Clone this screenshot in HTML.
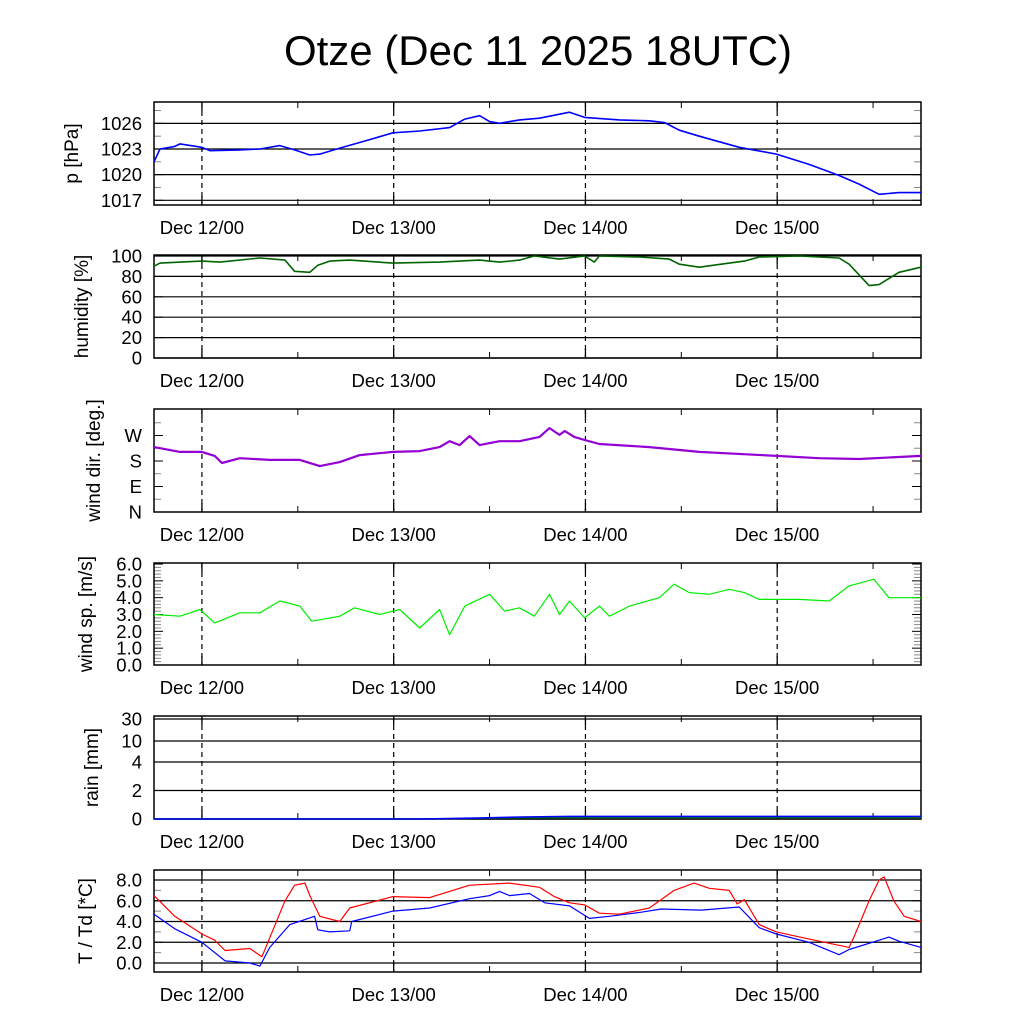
<!DOCTYPE html>
<html><head><meta charset="utf-8"><style>
html,body{margin:0;padding:0;background:#fff;}
svg{display:block;font-family:"Liberation Sans",sans-serif;}
</style></head><body>
<svg id="c" width="1024" height="1024" viewBox="0 0 1024 1024">
<text x="538" y="65" font-size="42" text-anchor="middle">Otze (Dec 11 2025 18UTC)</text>
</svg>
<script>
// time axis: hours since Dec 11 18UTC
const dayTicks=[6,30,54,78];
const dayLabels=["Dec 12/00","Dec 13/00","Dec 14/00","Dec 15/00"];
// pressure
const pT=[0,0.75,2.6,3.25,6,7,10.75,13.25,15.75,17.6,19.5,20.75,23.25,27,29.9,33.25,37,38.9,40.75,42,43.25,45.75,48.25,52,53.9,58.25,62,63.9,65.75,68.25,73.25,77.9,82,85.75,88.25,90.75,93.25,96];
const pV=[1021.5,1023,1023.3,1023.6,1023.2,1022.8,1022.9,1023,1023.4,1022.9,1022.3,1022.4,1023.1,1024.1,1024.9,1025.1,1025.5,1026.5,1026.9,1026.2,1026,1026.4,1026.6,1027.3,1026.7,1026.4,1026.3,1026.1,1025.2,1024.5,1023.2,1022.4,1021.2,1019.9,1018.9,1017.7,1017.9,1017.9];
// humidity
const hT=[0,0.75,6,8.25,13.25,16.4,17.6,19.5,20.5,22,24.5,29.9,35.75,40.75,43.25,45.75,47.6,50.75,53.9,55.1,55.75,60.75,64.5,65.75,68.25,72,73.9,75.75,80.75,85.75,87,89.5,90.75,93.25,96];
const hV=[90,93,95,94,98,96,85,84,91,95,96,93,94,96,94,96,100,97,100,94,100,99,97,92,89,93,95,99,100,98,92,71,72,84,89];
// wind direction (deg)
const dT=[0,3.25,6,7.6,8.5,10.75,14.5,18.25,20.75,23.25,25.75,29.9,33.25,35.75,37,38.25,39.5,40.75,43.25,45.75,48.25,49.5,50.75,51.4,52.6,53.9,55.75,62,68.25,77.9,83.25,88.25,96];
const dV=[229,212,212,198,173,190,184,184,162,176,201,212,215,229,250,236,268,236,250,250,265,296,272,286,265,254,240,229,212,198,190,187,198];
// wind speed (m/s)
const sT=[0,3.25,5.75,7.6,10.75,13.25,15.75,18.25,19.75,23.25,25.1,28.25,30.75,33.25,35.75,37,38.9,42,43.9,45.75,47.6,49.5,50.75,52,53.9,55.75,57,59.5,63.25,65.1,67,69.5,72,73.9,75.75,80.75,84.5,87,90.1,92,96];
const sV=[3.0,2.9,3.3,2.5,3.1,3.1,3.8,3.5,2.6,2.9,3.4,3.0,3.3,2.2,3.3,1.8,3.5,4.2,3.2,3.4,2.9,4.2,3.0,3.8,2.8,3.5,2.9,3.5,4.0,4.8,4.3,4.2,4.5,4.3,3.9,3.9,3.8,4.7,5.1,4.0,4.0];
// rain cumulative (mm)
const rT=[0,33,37,41,46,52,96];
const rV=[0,0,0.03,0.08,0.14,0.18,0.18];
// temperature / dewpoint
const tT=[0,2.6,6,7.6,8.9,12,13.5,14.25,16.4,17.6,18.9,19.5,20.75,23.25,24.5,29.9,34.5,39.5,44.5,48.25,50.1,52,53.9,55.75,58.25,62,65.1,67.6,69.5,72,73,73.9,75.75,77.9,82,87,87.6,89.5,90.75,91.4,92.6,93.9,96];
const tV=[6.5,4.5,2.8,2.2,1.2,1.4,0.6,2.0,6.0,7.5,7.7,6.5,4.5,4.0,5.3,6.4,6.3,7.5,7.7,7.3,6.4,5.8,5.6,4.8,4.7,5.3,7.0,7.7,7.2,7.0,5.7,6.1,3.7,3.0,2.3,1.5,2.5,6.0,8.0,8.3,6.0,4.5,4.0];
const qT=[0,2.6,6,8.9,12,13.25,14.5,17,20.1,20.5,22,24.5,24.75,29.9,34.5,39.5,42,43.25,44.5,47,48.9,52,54.5,57,61,63.5,68.5,73.25,75.75,77.9,82,85.75,87,90.75,92,93.25,96];
const qV=[4.7,3.3,2.0,0.2,0.0,-0.3,1.5,3.7,4.5,3.2,3.0,3.1,4.0,5.0,5.3,6.2,6.5,6.9,6.5,6.7,5.8,5.5,4.3,4.5,4.9,5.2,5.1,5.4,3.4,2.8,2.0,0.8,1.3,2.2,2.5,2.1,1.5];

const NS="http://www.w3.org/2000/svg";
const svg=document.getElementById('c');
const L=154,R=921;
const X=h=>L+(R-L)*h/96;
function mk(tag,attrs,parent){const e=document.createElementNS(NS,tag);for(const k in attrs)e.setAttribute(k,attrs[k]);(parent||svg).appendChild(e);return e;}

function panel(name,top,bot,yfun,ticks,tickLabels,grid,minor,ylabel,lx){
  const g=mk('g',{});
  
  
  if(grid){ticks.forEach(v=>{const y=yfun(v);const ln=mk('line',{x1:L,x2:R,y1:y,y2:y,stroke:'#000','stroke-width':1.2},g);});}
  minor.forEach(v=>{const y=yfun(v);mk('line',{x1:L,x2:L+7,y1:y,y2:y,stroke:'#888','stroke-width':1},g);mk('line',{x1:R-7,x2:R,y1:y,y2:y,stroke:'#888','stroke-width':1},g);});
  ticks.forEach((v,i)=>{const y=yfun(v);
    mk('line',{x1:L,x2:L+9,y1:y,y2:y,stroke:'#000','stroke-width':1},g);
    mk('line',{x1:R-9,x2:R,y1:y,y2:y,stroke:'#000','stroke-width':1},g);
    const t=mk('text',{x:L-12,y:y+6.5,'font-size':18.5,'text-anchor':'end'},g);t.textContent=tickLabels[i];
    });
  dayTicks.forEach((h,i)=>{const x=X(h);
    const d=mk('line',{x1:x,x2:x,y1:top,y2:bot,stroke:'#000','stroke-width':1.2,'stroke-dasharray':'5,4'},g);
    
    mk('line',{x1:x,x2:x,y1:bot-9,y2:bot,stroke:'#000','stroke-width':1.3},g);
    mk('line',{x1:x,x2:x,y1:top,y2:top+9,stroke:'#000','stroke-width':1.3},g);
    const t=mk('text',{x:x,y:bot+29,'font-size':18.5,'text-anchor':'middle'},g);t.textContent=dayLabels[i];
    });
  for(let h=18;h<96;h+=24){const x=X(h);mk('line',{x1:x,x2:x,y1:bot-6,y2:bot,stroke:'#000'},g);mk('line',{x1:x,x2:x,y1:top,y2:top+6,stroke:'#000'},g);}
  const fr=mk('rect',{x:L,y:top,width:R-L,height:bot-top,fill:'none',stroke:'#000','stroke-width':1.5},g);
  
  const yl=mk('text',{x:0,y:0,'font-size':19,'text-anchor':'middle',transform:`translate(${lx},${(top+bot)/2}) rotate(-90)`},g);
  yl.textContent=ylabel;
  return g;
}
function series(g,name,T,V,yfun,color,w){
  const d=T.map((t,i)=>(i?'L':'M')+X(t).toFixed(1)+','+yfun(V[i]).toFixed(1)).join('');
  const p=mk('path',{d:d,fill:'none',stroke:color,'stroke-width':w,'stroke-linejoin':'round'},g);
  
  
}
const yP=v=>149-(v-1023)*8.55;
let g=panel('pressure',102,205,yP,[1017,1020,1023,1026],['1017','1020','1023','1026'],true,[1018.5,1021.5,1024.5,1027.5],'p [hPa]',78);
series(g,'pressure-line',pT,pV,yP,'#0000ff',1.6);
const yH=v=>358-v*1.02;
g=panel('humidity',255,358,yH,[0,20,40,60,80,100],['0','20','40','60','80','100'],true,[],'humidity [%]',88);
series(g,'humidity-line',hT,hV,yH,'#006400',1.6);
const yD=v=>512-v*25.5/90;
g=panel('wind-direction',409,512,yD,[0,90,180,270],['N','E','S','W'],false,[45,135,225,315],'wind dir. [deg.]',100);
series(g,'wind-direction-line',dT,dV,yD,'#9400d3',2.2);
const yS=v=>665-v*16.83;
const sTicks=[0,1,2,3,4,5,6];
const sMin=[];for(let v=0.2;v<6;v+=0.2){if(Math.abs(v-Math.round(v))>0.05)sMin.push(v);}
g=panel('wind-speed',563,665,yS,sTicks,sTicks.map(v=>v.toFixed(1)),false,sMin,'wind sp. [m/s]',92);
series(g,'wind-speed-line',sT,sV,yS,'#00ee00',1.2);
const yR=v=>{if(v<=4)return 819-v*14.25;if(v<=10)return 762-(v-4)*3.5;return 741-(v-10)*1.1;};
g=panel('rain',716,819,yR,[0,2,4,10,30],['0','2','4','10','30'],true,[],'rain [mm]',98);
series(g,'rain-accumulated-green',rT,rV.map(v=>v*0.6),yR,'#008000',1.4);
series(g,'rain-accumulated',rT,rV,yR,'#0000ff',1.6);
const yT=v=>963-v*10.375;
g=panel('temperature',870,972,yT,[0,2,4,6,8],['0.0','2.0','4.0','6.0','8.0'],true,[1,3,5,7],'T / Td [*C]',92);
series(g,'dewpoint-line',qT,qV,yT,'#0000ff',1.2);
series(g,'temperature-line',tT,tV,yT,'#ff0000',1.2);
</script>
</body></html>
